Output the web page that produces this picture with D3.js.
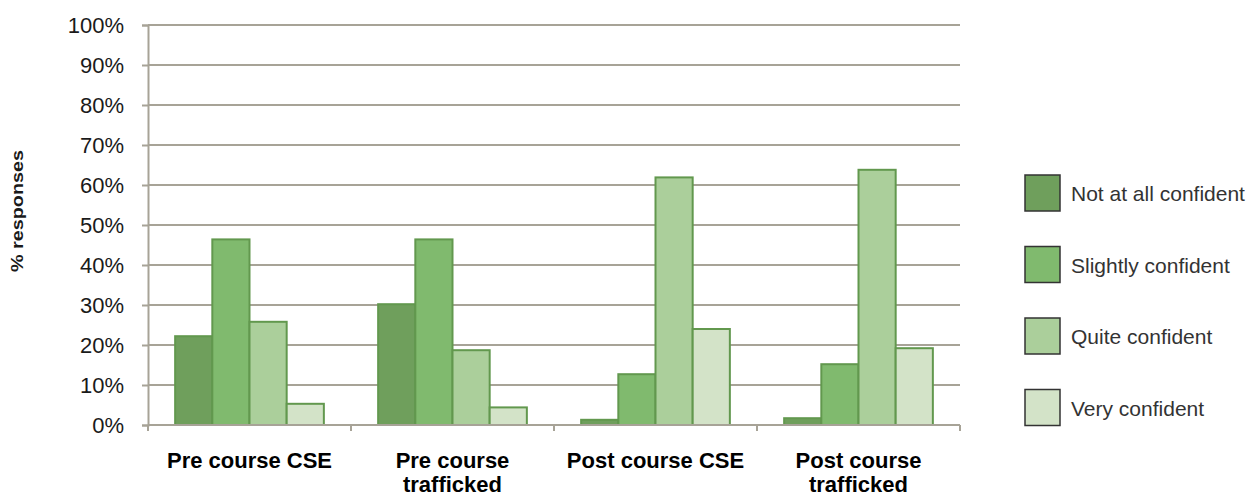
<!DOCTYPE html>
<html>
<head>
<meta charset="utf-8">
<script src="https://cdn.jsdelivr.net/npm/d3@7"></script>
<style>
  html, body { margin: 0; padding: 0; background: #fff; }
  svg { display: block; }
</style>
</head>
<body>
<svg id="chart" width="1252" height="497"></svg>
<script>
const categories = ["Pre course CSE", "Pre course\ntrafficked", "Post course CSE", "Post course\ntrafficked"];
const seriesNames = ["Not at all confident", "Slightly confident", "Quite confident", "Very confident"];
const notAtAll = [22.2, 30.2, 1.3, 1.7];
const slightly = [46.4, 46.4, 12.7, 15.2];
const quite = [25.8, 18.7, 61.9, 63.8];
const very = [5.3, 4.4, 24.0, 19.2];
const yTicks = [0, 10, 20, 30, 40, 50, 60, 70, 80, 90, 100];
const colors = ["#6f9f5c", "#80ba6e", "#abcf9b", "#d3e3c8"];

const seriesValues = [notAtAll, slightly, quite, very];

const svg = d3.select("#chart");
const plotLeft = 148, plotRight = 960, plotTop = 25, plotBottom = 425;

const x0 = d3.scaleBand().domain(categories).range([plotLeft, plotRight]).padding(0);
const x1 = d3.scaleBand().domain(seriesNames).range([0, x0.bandwidth()]).paddingInner(0).paddingOuter(0.73);
const y = d3.scaleLinear().domain([0, 100]).range([plotBottom, plotTop]);

const gridColor = "#a7a397";

// gridlines
svg.append("g").selectAll("line").data(yTicks.filter(d => d > 0)).join("line")
  .attr("x1", plotLeft).attr("x2", plotRight)
  .attr("y1", d => y(d)).attr("y2", d => y(d))
  .attr("stroke", gridColor).attr("stroke-width", 2);

// y axis
const yAxis = d3.axisLeft(y).tickValues(yTicks).tickFormat(d => d + "%").tickSize(6).tickPadding(18);
const yg = svg.append("g").attr("transform", `translate(${plotLeft},0)`).call(yAxis);
yg.select(".domain").attr("stroke", gridColor).attr("stroke-width", 2);
yg.selectAll(".tick line").attr("stroke", gridColor).attr("stroke-width", 2);
yg.selectAll(".tick text").attr("font-family", "Liberation Sans, Arial, sans-serif")
  .attr("font-size", 22).attr("fill", "#1a1a1a");

// bars
const groups = svg.append("g").selectAll("g").data(categories).join("g")
  .attr("transform", d => `translate(${x0(d)},0)`);
groups.selectAll("rect").data((c, i) => seriesNames.map((s, j) => ({s, j, v: seriesValues[j][i]})))
  .join("rect")
  .attr("x", d => x1(d.s))
  .attr("y", d => y(d.v))
  .attr("width", x1.bandwidth())
  .attr("height", d => y(0) - y(d.v))
  .attr("fill", (d) => colors[d.j])
  .attr("stroke", "#62984e").attr("stroke-width", 2);

// x axis
const xg = svg.append("g").attr("transform", `translate(0,${plotBottom})`);
xg.append("line").attr("x1", plotLeft).attr("x2", plotRight).attr("y1", 0).attr("y2", 0)
  .attr("stroke", gridColor).attr("stroke-width", 2);
const bounds = categories.map(c => x0(c)).concat([plotRight]);
xg.selectAll("line.tk").data(bounds).join("line").attr("class", "tk")
  .attr("x1", d => d).attr("x2", d => d).attr("y1", 0).attr("y2", 6)
  .attr("stroke", gridColor).attr("stroke-width", 2);

const labels = svg.append("g").selectAll("text").data(categories).join("text")
  .attr("x", d => x0(d) + x0.bandwidth() / 2)
  .attr("y", 468)
  .attr("text-anchor", "middle")
  .attr("font-family", "Liberation Sans, Arial, sans-serif")
  .attr("font-weight", "bold").attr("font-size", 22).attr("fill", "#000");
labels.each(function(d) {
  const parts = d.split("\n");
  const t = d3.select(this);
  parts.forEach((p, i) => {
    t.append("tspan").attr("x", x0(d) + x0.bandwidth() / 2).attr("dy", i === 0 ? 0 : 24).text(p);
  });
});

// y title
svg.append("text")
  .attr("transform", "translate(23,211) rotate(-90)")
  .attr("text-anchor", "middle")
  .attr("font-family", "Liberation Sans, Arial, sans-serif")
  .attr("font-weight", "bold").attr("font-size", 17).attr("fill", "#1a1a1a")
  .attr("textLength", 122).attr("lengthAdjust", "spacingAndGlyphs")
  .text("% responses");

// legend
const legend = svg.append("g").selectAll("g").data(seriesNames).join("g")
  .attr("transform", (d, i) => `translate(1025,${175 + i * 71.5})`);
legend.append("rect").attr("width", 35).attr("height", 36)
  .attr("fill", (d, i) => colors[i]).attr("stroke", "#333").attr("stroke-width", 1.5);
legend.append("text").attr("x", 46).attr("y", 26)
  .attr("font-family", "Liberation Sans, Arial, sans-serif")
  .attr("font-size", 21).attr("fill", "#333")
  .text(d => d);
</script>
</body>
</html>
